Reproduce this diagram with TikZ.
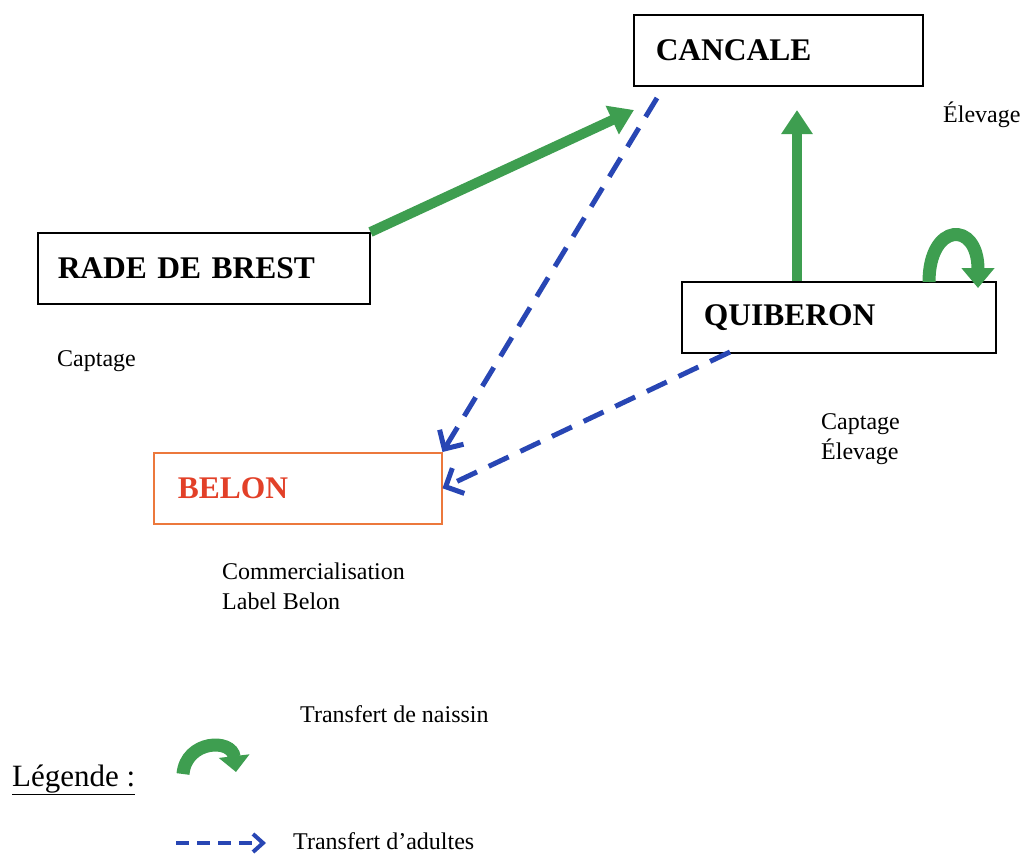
\documentclass[tikz,border=0pt]{standalone}
\usepackage{fontspec}
\setmainfont{Liberation Serif}
\usetikzlibrary{arrows.meta}
\definecolor{arrgreen}{RGB}{62,158,80}
\definecolor{arrblue}{RGB}{40,70,180}
\definecolor{belonred}{RGB}{226,64,40}
\definecolor{belonbox}{RGB}{236,120,60}
\tikzset{
  place/.style={draw=black, line width=1.5pt, minimum height=71pt, anchor=north west,
    inner xsep=22pt, align=left, font=\fontsize{31.5}{36}\selectfont\bfseries},
  note/.style={anchor=base west, inner sep=0pt, align=left, font=\fontsize{24}{30}\selectfont},
  seed/.style={draw=arrgreen, line width=10pt, -{Triangle[length=24pt,width=30pt]}},
  adult/.style={draw=arrblue, line width=5pt, dash pattern=on 22pt off 13pt,
    -{Straight Barb[length=14pt,width=28pt,line width=5pt]}}
}
\begin{document}
\begin{tikzpicture}[x=1pt,y=-1pt]
\useasboundingbox (0,0) rectangle (1029,854);

\node[place, text width=245pt] (cancale) at (633,14) {CANCALE};
\node[place, text width=292pt, inner xsep=20pt] (brest) at (37,232) {RADE DE BREST};
\node[place, text width=270pt] (quiberon) at (681,281) {QUIBERON};
\node[place, draw=belonbox, text=belonred, text width=240pt, inner xsep=24pt] (belon) at (153,452) {BELON};

\node[note] (elevC) at (943,122) {Élevage};
\node[note] (captB) at (57,366) {Captage};
\node[note, anchor=north west] (captQ) at (821,413) {Captage\\Élevage};
\node[note, anchor=north west] (commB) at (222,563) {Commercialisation\\Label Belon};

% green seed transfers
\coordinate (brestTR) at (brest.north east);
\coordinate (cancIn) at (634,110);
\draw[seed] (brestTR) -- (cancIn);
\coordinate (quibTop) at (quiberon.north -| 797,0);
\coordinate (cancBot) at (797,110);
\draw[seed] (quibTop) -- (cancBot);
\coordinate (loopA) at (929,282);
\coordinate (loopB) at (978,288);
\draw[seed, line width=13pt, -{Triangle[length=20pt,width=32pt]}] (loopA) .. controls (929,222) and (978,220) .. (loopB);

% blue adult transfers
\coordinate (cancBL) at (657,98);
\draw[adult] (cancBL) -- (belon.north east);
\coordinate (quibBL) at (730,352);
\draw[adult] (quibBL) -- (belon.east);

% legend
\node[anchor=base west, inner sep=0pt, font=\fontsize{31}{36}\selectfont] (leg) at (12,786) {\underline{Légende :}};
\coordinate (legA) at (183,774);
\coordinate (legB) at (236,772);
\draw[seed, line width=13pt, -{Triangle[length=16pt,width=30pt]}] (legA) .. controls (186,740) and (232,738) .. (legB);
\node[note] (legT1) at (300,722) {Transfert de naissin};
\coordinate (legC) at (176,843);
\coordinate (legD) at (266,843);
\draw[adult, line width=4pt, dash pattern=on 13pt off 8pt, -{Straight Barb[length=10pt,width=18pt,line width=4pt]}] (legC) -- (legD);
\node[note] (legT2) at (293,849) {Transfert d’adultes};
\end{tikzpicture}
\end{document}
